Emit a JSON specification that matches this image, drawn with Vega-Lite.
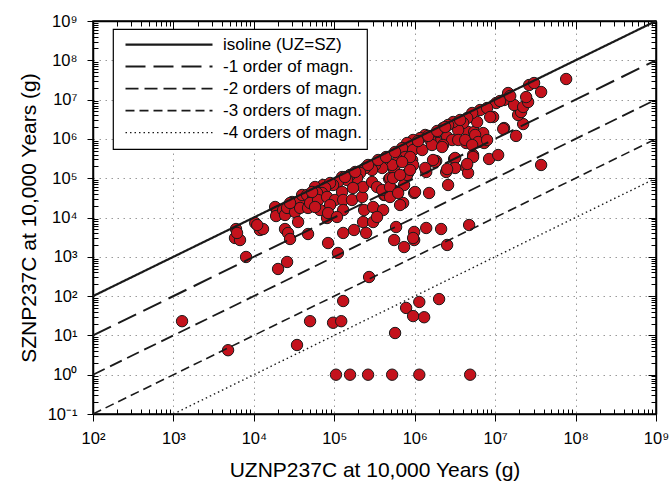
{
  "$schema": "https://vega.github.io/schema/vega-lite/v6.json",
  "width": 563,
  "height": 393,
  "autosize": {"type": "none"},
  "padding": {"left": 93, "top": 21, "right": 16, "bottom": 67},
  "background": "white",
  "datasets": {
    "points": [
      {"uz":6000,"sz":5090},{"uz":5830,"sz":3010},{"uz":6730,"sz":2670},{"uz":6180,"sz":4040},{"uz":8000,"sz":990},
      {"uz":10400,"sz":7240},{"uz":11900,"sz":4810},{"uz":13000,"sz":5090},{"uz":11000,"sz":6440},{"uz":18400,"sz":18500},
      {"uz":19400,"sz":13800},{"uz":18900,"sz":10900},{"uz":23100,"sz":15500},{"uz":24400,"sz":11600},{"uz":25900,"sz":17500},
      {"uz":32500,"sz":13800},{"uz":29900,"sz":24800},{"uz":37600,"sz":27900},{"uz":37600,"sz":17500},{"uz":39800,"sz":37400},
      {"uz":47200,"sz":17500},{"uz":45900,"sz":37400},{"uz":61100,"sz":27900},{"uz":66500,"sz":44600},{"uz":72600,"sz":67100},
      {"uz":57700,"sz":59700},{"uz":35500,"sz":7670},{"uz":24400,"sz":5090},{"uz":26600,"sz":4040},{"uz":28200,"sz":2840},
      {"uz":47200,"sz":3800},{"uz":81300,"sz":15500},{"uz":81300,"sz":9710},{"uz":83700,"sz":2240},{"uz":20000,"sz":490},
      {"uz":25900,"sz":738},{"uz":111000,"sz":1250},{"uz":271000,"sz":306},{"uz":129000,"sz":75},{"uz":50000,"sz":23},
      {"uz":96600,"sz":21},{"uz":122000,"sz":23},{"uz":570000,"sz":11.5},{"uz":4780,"sz":4.2},{"uz":34400,"sz":5.7},
      {"uz":1280,"sz":23},
      {"uz":105000,"sz":1},{"uz":157000,"sz":1},{"uz":263000,"sz":1},{"uz":524000,"sz":1},{"uz":1140000,"sz":1},{"uz":4890000,"sz":1},
      {"uz":782000,"sz":50},{"uz":1140000,"sz":71},{"uz":2010000,"sz":84},{"uz":955000,"sz":31},{"uz":1310000,"sz":29},
      {"uz":738000,"sz":1770},{"uz":555000,"sz":2670},{"uz":984000,"sz":2670},{"uz":2530000,"sz":2000},
      {"uz":129000,"sz":4040},{"uz":176000,"sz":4810},{"uz":249000,"sz":4040},{"uz":228000,"sz":7670},{"uz":304000,"sz":7670},
      {"uz":235000,"sz":15500},{"uz":304000,"sz":18500},{"uz":587000,"sz":5730},{"uz":718000,"sz":23400},{"uz":416000,"sz":37400},
      {"uz":508000,"sz":44600},{"uz":481000,"sz":95500},{"uz":555000,"sz":162000},{"uz":738000,"sz":67100},{"uz":828000,"sz":136000},
      {"uz":984000,"sz":42000},{"uz":1510000,"sz":42000},{"uz":2130000,"sz":5090},{"uz":1390000,"sz":5410},{"uz":984000,"sz":4280},
      {"uz":955000,"sz":3010},{"uz":4750000,"sz":6440},
      {"uz":1390000,"sz":144000},{"uz":1850000,"sz":274000},{"uz":2460000,"sz":144000},{"uz":2600000,"sz":67100},{"uz":3090000,"sz":308000},
      {"uz":4360000,"sz":193000},{"uz":4610000,"sz":136000},{"uz":5320000,"sz":389000},{"uz":4360000,"sz":787000},{"uz":4610000,"sz":1500000},
      {"uz":5480000,"sz":1500000},{"uz":5320000,"sz":834000},{"uz":7100000,"sz":1410000},{"uz":7290000,"sz":787000},{"uz":8410000,"sz":308000},
      {"uz":10900000,"sz":389000},{"uz":37300000,"sz":217000},{"uz":18200000,"sz":1190000},{"uz":22300000,"sz":2390000},{"uz":12900000,"sz":1890000},
      {"uz":9440000,"sz":3610000},{"uz":10300000,"sz":8190000},{"uz":12900000,"sz":9770000},{"uz":14500000,"sz":14700000},{"uz":19300000,"sz":4060000},
      {"uz":21000000,"sz":4830000},{"uz":17200000,"sz":7290000},{"uz":22300000,"sz":6490000},{"uz":25700000,"sz":8690000},{"uz":24300000,"sz":11600000},
      {"uz":37300000,"sz":15600000},{"uz":26500000,"sz":23500000},{"uz":30500000,"sz":26400000},{"uz":76400000,"sz":33400000},
      {"uz":658000,"sz":20800},{"uz":429000,"sz":37400},{"uz":538000,"sz":50100},{"uz":494000,"sz":101000},{"uz":804000,"sz":121000},
      {"uz":1790000,"sz":258000},{"uz":3180000,"sz":327000},{"uz":5320000,"sz":346000},{"uz":1010000,"sz":44600},
      {"uz":6500000,"sz":5430000},{"uz":7940000,"sz":6110000},{"uz":5970000,"sz":2690000},{"uz":5180000,"sz":4560000},{"uz":4490000,"sz":3400000},
      {"uz":4000000,"sz":2540000},{"uz":3470000,"sz":1680000},{"uz":3010000,"sz":2690000},{"uz":2600000,"sz":2260000},{"uz":2250000,"sz":1890000},
      {"uz":2530000,"sz":1120000},{"uz":2920000,"sz":938000},{"uz":3470000,"sz":938000},{"uz":4240000,"sz":938000},{"uz":5640000,"sz":1260000},
      {"uz":6150000,"sz":834000},{"uz":7940000,"sz":938000},{"uz":5180000,"sz":700000},{"uz":8670000,"sz":3610000},{"uz":12600000,"sz":1790000},
      {"uz":1790000,"sz":1260000},{"uz":1950000,"sz":787000},{"uz":1560000,"sz":938000},{"uz":1350000,"sz":1260000},{"uz":1170000,"sz":1050000},
      {"uz":955000,"sz":938000},{"uz":804000,"sz":787000},{"uz":697000,"sz":586000},{"uz":955000,"sz":522000},{"uz":1240000,"sz":522000},
      {"uz":1640000,"sz":700000},{"uz":2250000,"sz":700000},{"uz":1690000,"sz":290000},{"uz":2190000,"sz":622000},{"uz":760000,"sz":346000},
      {"uz":929000,"sz":290000},{"uz":955000,"sz":217000},{"uz":4490000,"sz":230000},{"uz":3180000,"sz":182000},{"uz":2530000,"sz":171000},
      {"uz":1350000,"sz":182000},{"uz":877000,"sz":346000},{"uz":622000,"sz":290000},{"uz":524000,"sz":217000},{"uz":405000,"sz":290000},
      {"uz":394000,"sz":182000},{"uz":321000,"sz":217000},{"uz":295000,"sz":162000},{"uz":242000,"sz":182000},{"uz":209000,"sz":136000},
      {"uz":192000,"sz":101000},{"uz":157000,"sz":121000},{"uz":144000,"sz":90000},{"uz":125000,"sz":107000},{"uz":111000,"sz":80000},
      {"uz":96600,"sz":67100},{"uz":88700,"sz":75500},{"uz":76900,"sz":56400},{"uz":70500,"sz":42000},{"uz":61100,"sz":42000},
      {"uz":54500,"sz":31300},{"uz":50000,"sz":23400},{"uz":62900,"sz":27900},{"uz":81300,"sz":33300},{"uz":102000,"sz":27900},
      {"uz":125000,"sz":44600},{"uz":129000,"sz":27900},{"uz":166000,"sz":27900},{"uz":222000,"sz":33300},{"uz":228000,"sz":59700},
      {"uz":295000,"sz":80000},{"uz":340000,"sz":59700},{"uz":394000,"sz":50100},{"uz":494000,"sz":59700},{"uz":538000,"sz":101000},
      {"uz":658000,"sz":121000},{"uz":494000,"sz":33300},{"uz":622000,"sz":42000},{"uz":405000,"sz":15500},{"uz":129000,"sz":15500},
      {"uz":171000,"sz":56400},{"uz":88700,"sz":20800},{"uz":66500,"sz":15500},{"uz":57700,"sz":18500},{"uz":83700,"sz":13000},
      {"uz":108000,"sz":10300},{"uz":340000,"sz":10300},{"uz":877000,"sz":162000},{"uz":697000,"sz":258000},
      {"uz":136000,"sz":107000},{"uz":182000,"sz":144000},{"uz":263000,"sz":217000},{"uz":351000,"sz":290000},{"uz":440000,"sz":346000},
      {"uz":570000,"sz":464000},{"uz":1100000,"sz":880000},{"uz":1470000,"sz":1190000},{"uz":1900000,"sz":1590000},{"uz":2390000,"sz":2010000},
      {"uz":3670000,"sz":3030000},{"uz":11500000,"sz":9200000},{"uz":15400000,"sz":12400000},{"uz":53000,"sz":44600},{"uz":28200,"sz":23400}
    ],
    "lines": [
      {"series":"isoline (UZ=SZ)","uz":100,"sz":100},{"series":"isoline (UZ=SZ)","uz":1e9,"sz":1e9},
      {"series":"-1 order of magn.","uz":100,"sz":10},{"series":"-1 order of magn.","uz":1e9,"sz":1e8},
      {"series":"-2 orders of magn.","uz":100,"sz":1},{"series":"-2 orders of magn.","uz":1e9,"sz":1e7},
      {"series":"-3 orders of magn.","uz":100,"sz":0.1},{"series":"-3 orders of magn.","uz":1e9,"sz":1e6},
      {"series":"-4 orders of magn.","uz":1000,"sz":0.1},{"series":"-4 orders of magn.","uz":1e9,"sz":1e5}
    ]
  },
  "layer": [
    {
      "data": {"name": "points"},
      "mark": {"type": "circle", "size": 130, "fill": "#c4121c", "stroke": "#1a1a1a", "strokeWidth": 1, "opacity": 1},
      "encoding": {
        "x": {
          "field": "uz", "type": "quantitative",
          "scale": {"type": "log", "domain": [100, 1e9], "nice": false},
          "axis": {
            "orient": "bottom",
            "title": "UZNP237C at 10,000 Years (g)",
            "titlePadding": 13,
            "values": [100,200,300,400,500,600,700,800,900,1e3,2e3,3e3,4e3,5e3,6e3,7e3,8e3,9e3,1e4,2e4,3e4,4e4,5e4,6e4,7e4,8e4,9e4,1e5,2e5,3e5,4e5,5e5,6e5,7e5,8e5,9e5,1e6,2e6,3e6,4e6,5e6,6e6,7e6,8e6,9e6,1e7,2e7,3e7,4e7,5e7,6e7,7e7,8e7,9e7,1e8,2e8,3e8,4e8,5e8,6e8,7e8,8e8,9e8,1e9],
            "labelExpr": "abs(log(datum.value)/LN10 - round(log(datum.value)/LN10)) < 0.001 ? '10' + (datum.value < 1 ? '⁻' : '') + ['⁰','¹','²','³','⁴','⁵','⁶','⁷','⁸','⁹'][abs(round(log(datum.value)/LN10))] : ''",
            "tickSize": {"condition": {"test": "abs(log(datum.value)/LN10 - round(log(datum.value)/LN10)) > 0.001", "value": -5}, "value": 7},
            "gridOpacity": {"condition": {"test": "abs(log(datum.value)/LN10 - round(log(datum.value)/LN10)) > 0.001", "value": 0}, "value": 1},
            "grid": true,
            "labelPadding": 9
          }
        },
        "y": {
          "field": "sz", "type": "quantitative",
          "scale": {"type": "log", "domain": [0.1, 1e9], "nice": false},
          "axis": {
            "orient": "left",
            "title": "SZNP237C at 10,000 Years (g)",
            "titlePadding": 8,
            "values": [0.1,0.2,0.3,0.4,0.5,0.6,0.7,0.8,0.9,1,2,3,4,5,6,7,8,9,10,20,30,40,50,60,70,80,90,100,200,300,400,500,600,700,800,900,1e3,2e3,3e3,4e3,5e3,6e3,7e3,8e3,9e3,1e4,2e4,3e4,4e4,5e4,6e4,7e4,8e4,9e4,1e5,2e5,3e5,4e5,5e5,6e5,7e5,8e5,9e5,1e6,2e6,3e6,4e6,5e6,6e6,7e6,8e6,9e6,1e7,2e7,3e7,4e7,5e7,6e7,7e7,8e7,9e7,1e8,2e8,3e8,4e8,5e8,6e8,7e8,8e8,9e8,1e9],
            "labelExpr": "abs(log(datum.value)/LN10 - round(log(datum.value)/LN10)) < 0.001 ? '10' + (datum.value < 1 ? '⁻' : '') + ['⁰','¹','²','³','⁴','⁵','⁶','⁷','⁸','⁹'][abs(round(log(datum.value)/LN10))] : ''",
            "tickSize": {"condition": {"test": "abs(log(datum.value)/LN10 - round(log(datum.value)/LN10)) > 0.001", "value": -5}, "value": 6},
            "gridOpacity": {"condition": {"test": "abs(log(datum.value)/LN10 - round(log(datum.value)/LN10)) > 0.001", "value": 0}, "value": 1},
            "grid": true,
            "labelPadding": 10
          }
        }
      }
    },
    {
      "data": {"name": "lines"},
      "mark": {"type": "line", "color": "#1a1a1a"},
      "encoding": {
        "x": {
          "field": "uz", "type": "quantitative",
          "axis": {
            "orient": "top", "title": null, "labels": false, "grid": false,
            "values": [100,200,300,400,500,600,700,800,900,1e3,2e3,3e3,4e3,5e3,6e3,7e3,8e3,9e3,1e4,2e4,3e4,4e4,5e4,6e4,7e4,8e4,9e4,1e5,2e5,3e5,4e5,5e5,6e5,7e5,8e5,9e5,1e6,2e6,3e6,4e6,5e6,6e6,7e6,8e6,9e6,1e7,2e7,3e7,4e7,5e7,6e7,7e7,8e7,9e7,1e8,2e8,3e8,4e8,5e8,6e8,7e8,8e8,9e8,1e9],
            "tickSize": {"condition": {"test": "abs(log(datum.value)/LN10 - round(log(datum.value)/LN10)) > 0.001", "value": -5}, "value": -8}
          }
        },
        "y": {
          "field": "sz", "type": "quantitative",
          "axis": {
            "orient": "right", "title": null, "labels": false, "grid": false,
            "values": [0.1,0.2,0.3,0.4,0.5,0.6,0.7,0.8,0.9,1,2,3,4,5,6,7,8,9,10,20,30,40,50,60,70,80,90,100,200,300,400,500,600,700,800,900,1e3,2e3,3e3,4e3,5e3,6e3,7e3,8e3,9e3,1e4,2e4,3e4,4e4,5e4,6e4,7e4,8e4,9e4,1e5,2e5,3e5,4e5,5e5,6e5,7e5,8e5,9e5,1e6,2e6,3e6,4e6,5e6,6e6,7e6,8e6,9e6,1e7,2e7,3e7,4e7,5e7,6e7,7e7,8e7,9e7,1e8,2e8,3e8,4e8,5e8,6e8,7e8,8e8,9e8,1e9],
            "tickSize": {"condition": {"test": "abs(log(datum.value)/LN10 - round(log(datum.value)/LN10)) > 0.001", "value": -5}, "value": -8}
          }
        },
        "strokeDash": {
          "field": "series", "type": "nominal",
          "scale": {"domain": ["isoline (UZ=SZ)", "-1 order of magn.", "-2 orders of magn.", "-3 orders of magn.", "-4 orders of magn."], "range": [[1, 0], [20, 8], [13, 6], [9, 5], [1.5, 3]]},
          "legend": {"title": null, "orient": "none", "legendX": 20, "legendY": 8}
        },
        "strokeWidth": {
          "field": "series", "type": "nominal",
          "scale": {"domain": ["isoline (UZ=SZ)", "-1 order of magn.", "-2 orders of magn.", "-3 orders of magn.", "-4 orders of magn."], "range": [2.2, 1.4, 1.4, 1.4, 1.3]},
          "legend": {"title": null, "orient": "none", "legendX": 20, "legendY": 8}
        }
      }
    }
  ],
  "resolve": {"axis": {"x": "independent", "y": "independent"}},
  "config": {
    "font": "Liberation Sans",
    "view": {"stroke": "black", "strokeWidth": 1.5},
    "axis": {
      "domainColor": "black", "domainWidth": 1.5,
      "tickColor": "black", "tickWidth": 1,
      "labelFont": "Liberation Sans", "labelFontSize": 16.5, "labelColor": "black",
      "titleFont": "Liberation Sans", "titleFontSize": 21, "titleFontWeight": "normal", "titleColor": "black",
      "gridColor": "#9a9a9a", "gridDash": [1.5, 4.5], "gridWidth": 1,
      "labelFlush": false, "labelOverlap": false, "labelBound": false
    },
    "legend": {
      "fillColor": "white", "strokeColor": "black", "strokeWidth": 1.2,
      "padding": 5, "symbolOffset": 6, "symbolType": "stroke", "symbolSize": 7569,
      "symbolStrokeColor": "#1a1a1a", "clipHeight": 21.2, "rowPadding": 0,
      "labelFont": "Liberation Sans", "labelFontSize": 17, "labelColor": "black",
      "labelOffset": 9, "labelLimit": 400
    }
  }
}
